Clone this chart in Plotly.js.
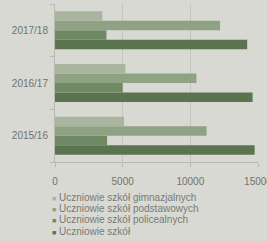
<!DOCTYPE html>
<html>
<head>
<meta charset="utf-8">
<script src="https://cdn.plot.ly/plotly-3.0.1.min.js"></script>
<style>html,body{margin:0;padding:0;background:#d8d9d3;}</style>
</head>
<body>
<div id="chart" style="width:267px;height:241px;"></div>
<script>
const categories = ['2015/16', '2016/17', '2017/18'];
const seriesNames = [
  'Uczniowie szkół gimnazjalnych',
  'Uczniowie szkół podstawowych',
  'Uczniowie szkół policealnych',
  'Uczniowie szkół'
];
const gimnazjalnych = [5100, 5200, 3500];
const podstawowych = [11200, 10450, 12200];
const policealnych = [3850, 5000, 3800];
const szkol = [14750, 14600, 14200];
const colors = ['#aab5a0', '#8fa283', '#6e8963', '#5a7450'];
const tickVals = [0, 5000, 10000, 15000];
const tickText = ['0', '5000', '10000', '15000'];

const seriesValues = [gimnazjalnych, podstawowych, policealnych, szkol];
// Plotly draws the first trace at the bottom of each group, so add in reverse
const data = [];
for (let i = seriesValues.length - 1; i >= 0; i--) {
  data.push({
    type: 'bar', orientation: 'h',
    y: categories, x: seriesValues[i],
    name: seriesNames[i],
    marker: {color: colors[i]},
    showlegend: false
  });
}

const plotTop = 4, plotBottom = 162, plotH = plotBottom - plotTop;
const plotLeft = 55, plotW = 203;
const legendRows = [197, 208.3, 219.6, 231];
const annotations = seriesNames.map((n, i) => ({
  xref: 'paper', yref: 'paper',
  x: (50 - plotLeft) / plotW, y: (plotBottom - legendRows[i]) / plotH,
  xanchor: 'left', yanchor: 'middle', showarrow: false, align: 'left',
  text: '<span style="color:' + colors[i] + ';font-size:7px">■</span> ' + n,
  font: {family: 'Liberation Sans, Arial, sans-serif', size: 10, color: '#7a7a72'}
}));

const layout = {
  width: 267, height: 241,
  margin: {l: plotLeft, r: 267 - plotLeft - plotW, t: plotTop, b: 241 - plotBottom},
  paper_bgcolor: '#d8d9d3', plot_bgcolor: '#d8d9d3',
  barmode: 'group', bargap: 0.28, bargroupgap: 0,
  showlegend: false,
  font: {family: 'Liberation Sans, Arial, sans-serif', size: 10, color: '#72726c'},
  xaxis: {
    range: [0, 15000], tickvals: tickVals, ticktext: tickText,
    showgrid: true, gridcolor: '#c4c5bd', gridwidth: 1,
    showline: true, linecolor: '#b8b9b1', ticks: 'outside', ticklen: 4, tickcolor: '#b8b9b1',
    ticklabelstandoff: 6, ticklabeloverflow: 'allow',
    zeroline: false, fixedrange: true
  },
  yaxis: {
    showgrid: false, showline: true, linecolor: '#b8b9b1',
    ticks: 'outside', ticklen: 4, tickcolor: '#b8b9b1', tickson: 'boundaries',
    ticklabelstandoff: 4, zeroline: false, fixedrange: true
  },
  annotations: annotations
};
Plotly.newPlot('chart', data, layout, {displayModeBar: false, staticPlot: true});
</script>
</body>
</html>
